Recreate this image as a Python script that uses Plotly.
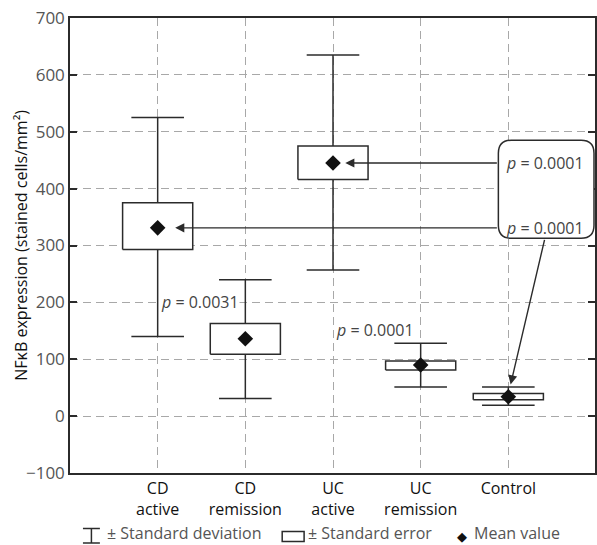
import plotly.graph_objects as go

categories = ["CD<br>active", "CD<br>remission", "UC<br>active", "UC<br>remission", "Control"]
mean_val = [331, 136, 445, 90, 34]
se_low = [293, 109, 416, 81, 29]
se_high = [375, 163, 475, 97, 40]
sd_low = [140, 31, 257, 51, 19]
sd_high = [525, 240, 635, 128, 51]
y_ticks = [-100, 0, 100, 200, 300, 400, 500, 600, 700]

p_labels = ["<i>p</i> = 0.0031", "<i>p</i> = 0.0001", "<i>p</i> = 0.0001", "<i>p</i> = 0.0001"]

FONT = "Open Sans"
LINE = "#2b2b2b"
W, H = 597, 545
ML, MT, MB, MR = 70, 18, 72, 0
PW = W - ML - MR
PH = H - MT - MB

fig = go.Figure()
xs = list(range(1, len(categories) + 1))
BW, CW = 0.40, 0.30
for i, x in enumerate(xs):
    fig.add_trace(go.Scatter(
        x=[x, x, None, x - CW, x + CW, None, x - CW, x + CW],
        y=[sd_low[i], sd_high[i], None, sd_high[i], sd_high[i], None, sd_low[i], sd_low[i]],
        mode="lines", line=dict(color=LINE, width=1.5), hoverinfo="skip", showlegend=False))
    fig.add_trace(go.Scatter(
        x=[x - BW, x + BW, x + BW, x - BW, x - BW],
        y=[se_low[i], se_low[i], se_high[i], se_high[i], se_low[i]],
        mode="lines", fill="toself", fillcolor="white",
        line=dict(color=LINE, width=1.5), hoverinfo="skip", showlegend=False))
fig.add_trace(go.Scatter(x=xs, y=mean_val, mode="markers",
                         marker=dict(symbol="diamond", size=12, color="#111"),
                         showlegend=False))

def px2x(px):
    return (px - ML) / 88.0

def py2y(py):
    return (416.7 - py) / 0.5684

# bubble (rounded rect) in data coords
x0, x1 = px2x(500), px2x(596)
y0, y1 = py2y(239), py2y(141)
rx, ry = 13 / 88.0, 13 / 0.5684
path = (f"M {x0+rx},{y1} L {x1-rx},{y1} Q {x1},{y1} {x1},{y1-ry} L {x1},{y0+ry} "
        f"Q {x1},{y0} {x1-rx},{y0} L {x0+rx},{y0} Q {x0},{y0} {x0},{y0+ry} "
        f"L {x0},{y1-ry} Q {x0},{y1} {x0+rx},{y1} Z")
fig.add_shape(type="path", path=path, xref="x", yref="y", fillcolor="white",
              line=dict(color=LINE, width=1.5), layer="above")

arrow_kw = dict(showarrow=True, text="", arrowhead=2, arrowsize=1.3, arrowwidth=1.4,
                arrowcolor=LINE, axref="x", ayref="y", xref="x", yref="y")
fig.add_annotation(x=3.14, y=mean_val[2], ax=x0, ay=mean_val[2], **arrow_kw)
fig.add_annotation(x=1.20, y=mean_val[0], ax=x0, ay=mean_val[0], **arrow_kw)
fig.add_annotation(x=px2x(512.3), y=py2y(385), ax=px2x(546.7), ay=y0, **arrow_kw)

TXT = dict(family=FONT, size=16, color="#444")
fig.add_annotation(x=px2x(160), y=200, text=p_labels[0], showarrow=False, xanchor="left",
                   yanchor="middle", bgcolor="white", borderpad=0, font=TXT)
fig.add_annotation(x=px2x(335), y=py2y(331), text=p_labels[3], showarrow=False, xanchor="left",
                   yanchor="middle", font=TXT)
fig.add_annotation(x=px2x(506), y=mean_val[2], text=p_labels[1], showarrow=False, xanchor="left",
                   yanchor="middle", font=TXT)
fig.add_annotation(x=px2x(506), y=mean_val[0], text=p_labels[2], showarrow=False, xanchor="left",
                   yanchor="middle", font=TXT)

# y title
fig.add_annotation(xref="paper", yref="paper", x=(20 - ML) / PW, y=0.5, textangle=-90,
                   xanchor="center", yanchor="middle",
                   text="NFκB expression (stained cells/mm²)", showarrow=False,
                   font=dict(family=FONT, size=16, color="#111"))

# legend
def ppx(px):
    return (px - ML) / PW

def ppy(py):
    return (MT + PH - py) / PH

LG = dict(color=LINE, width=1.5)
for seg in [((83, 528.5), (100, 528.5)), ((91.5, 528.5), (91.5, 543)), ((83, 543), (100, 543))]:
    fig.add_shape(type="line", xref="paper", yref="paper", x0=ppx(seg[0][0]), y0=ppy(seg[0][1]),
                  x1=ppx(seg[1][0]), y1=ppy(seg[1][1]), line=LG)
fig.add_shape(type="rect", xref="paper", yref="paper", x0=ppx(283), x1=ppx(305),
              y0=ppy(541.5), y1=ppy(531.5), line=LG, fillcolor="white")
LT = dict(family=FONT, size=16, color="#555")
LY = ppy(544.5)
fig.add_annotation(xref="paper", yref="paper", x=ppx(106), y=LY, text="± Standard deviation",
                   showarrow=False, xanchor="left", yanchor="bottom", borderpad=0, font=LT)
fig.add_annotation(xref="paper", yref="paper", x=ppx(308), y=LY, text="± Standard error",
                   showarrow=False, xanchor="left", yanchor="bottom", borderpad=0, font=LT)
fig.add_annotation(xref="paper", yref="paper", x=ppx(463), y=ppy(536.5), text="◆",
                   showarrow=False, xanchor="center", yanchor="middle", borderpad=0,
                   font=dict(family="DejaVu Sans", size=13, color="#111"))
fig.add_annotation(xref="paper", yref="paper", x=ppx(475), y=LY, text="Mean value",
                   showarrow=False, xanchor="left", yanchor="bottom", borderpad=0, font=LT)

grid = dict(showgrid=True, gridcolor="#a8a8a8", gridwidth=1.2, griddash="8px,5px")
fig.update_xaxes(range=[0, PW / 88.0], tickvals=xs, ticktext=categories, **grid,
                 showline=True, linecolor=LINE, linewidth=1.5, mirror=True, ticks="",
                 zeroline=False, tickfont=dict(family=FONT, size=16, color="#111"))
fig.update_yaxes(range=[-100, 700], tickvals=y_ticks, **grid,
                 showline=True, linecolor=LINE, linewidth=1.5, mirror="allticks",
                 ticks="inside", ticklen=7, tickcolor=LINE, tickwidth=1.5, zeroline=False,
                 tickfont=dict(family=FONT, size=17, color="#555"))
fig.update_layout(width=W, height=H, margin=dict(l=ML, r=MR, t=MT, b=MB, pad=0),
                  plot_bgcolor="white", paper_bgcolor="white", showlegend=False)
fig.write_html("out.html", config={"displayModeBar": False},
               post_script="document.body.style.margin='0';document.body.style.overflow='hidden';")
